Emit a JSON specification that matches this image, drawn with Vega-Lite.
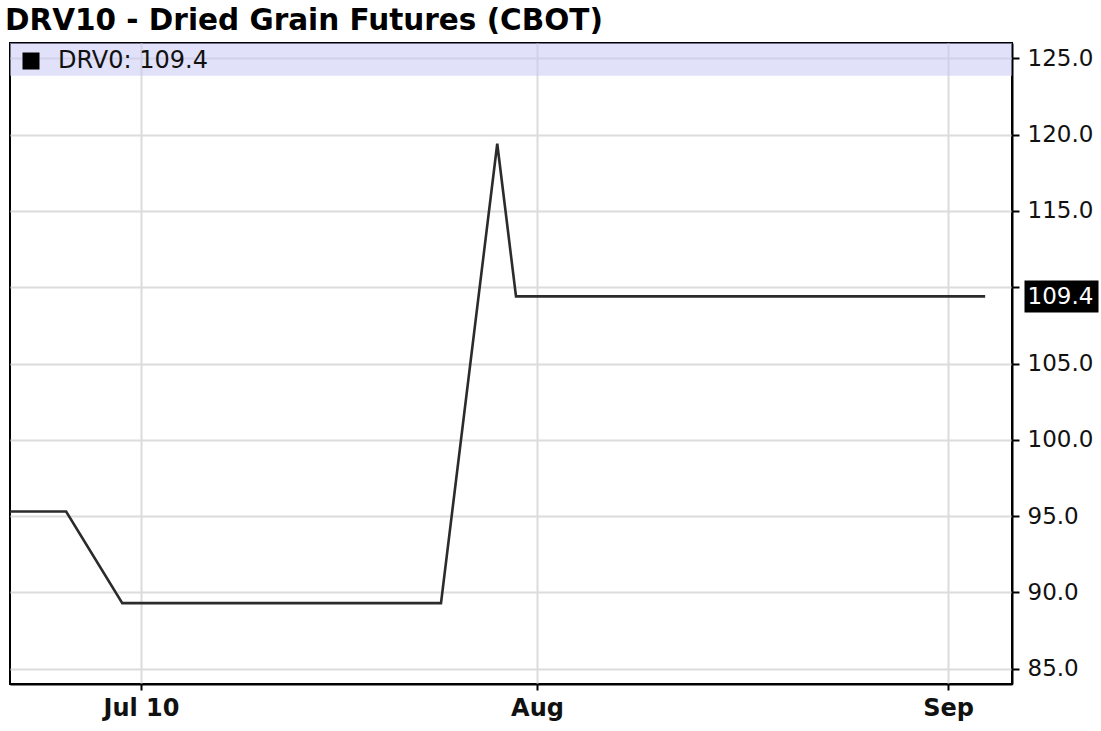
{
  "$schema": "https://vega.github.io/schema/vega-lite/v6.json",
  "width": 1002,
  "height": 641,
  "autosize": {"type": "none"},
  "padding": {"left": 10, "top": 43, "right": 89, "bottom": 47},
  "background": "#ffffff",
  "title": {
    "text": "DRV10 - Dried Grain Futures (CBOT)",
    "anchor": "start",
    "frame": "group",
    "font": "DejaVu Sans",
    "fontSize": 29.5,
    "fontWeight": "bold",
    "color": "#000000",
    "offset": 7,
    "dx": -5
  },
  "config": {
    "view": {"stroke": "#000000", "strokeWidth": 2}
  },
  "layer": [
    {
      "data": {"values": [{"band": "legend"}]},
      "mark": {"type": "rect", "fill": "#c9c9f5", "opacity": 0.55},
      "encoding": {
        "y": {
          "datum": 126,
          "type": "quantitative",
          "scale": {"domain": [84, 126], "nice": false, "zero": false},
          "axis": {
            "orient": "right",
            "values": [109.4],
            "format": ".1f",
            "grid": false,
            "domain": false,
            "ticks": true,
            "tickSize": 86,
            "tickWidth": 32,
            "tickColor": "#000000",
            "tickDash": [0, 12, 74],
            "tickCap": "butt",
            "labelPadding": -71,
            "labelColor": "#ffffff",
            "labelFont": "DejaVu Sans",
            "labelFontSize": 23,
            "labelOverlap": false,
            "title": null
          }
        },
        "y2": {"datum": 123.85}
      }
    },
    {
      "data": {
        "values": [
          {"date": "2012-07-03", "price": 95.3, "series": "DRV0"},
          {"date": "2012-07-05", "price": 95.3, "series": "DRV0"},
          {"date": "2012-07-06", "price": 95.3, "series": "DRV0"},
          {"date": "2012-07-09", "price": 89.3, "series": "DRV0"},
          {"date": "2012-07-10", "price": 89.3, "series": "DRV0"},
          {"date": "2012-07-11", "price": 89.3, "series": "DRV0"},
          {"date": "2012-07-12", "price": 89.3, "series": "DRV0"},
          {"date": "2012-07-13", "price": 89.3, "series": "DRV0"},
          {"date": "2012-07-16", "price": 89.3, "series": "DRV0"},
          {"date": "2012-07-17", "price": 89.3, "series": "DRV0"},
          {"date": "2012-07-18", "price": 89.3, "series": "DRV0"},
          {"date": "2012-07-19", "price": 89.3, "series": "DRV0"},
          {"date": "2012-07-20", "price": 89.3, "series": "DRV0"},
          {"date": "2012-07-23", "price": 89.3, "series": "DRV0"},
          {"date": "2012-07-24", "price": 89.3, "series": "DRV0"},
          {"date": "2012-07-25", "price": 89.3, "series": "DRV0"},
          {"date": "2012-07-26", "price": 89.3, "series": "DRV0"},
          {"date": "2012-07-27", "price": 89.3, "series": "DRV0"},
          {"date": "2012-07-30", "price": 119.4, "series": "DRV0"},
          {"date": "2012-07-31", "price": 109.4, "series": "DRV0"},
          {"date": "2012-08-01", "price": 109.4, "series": "DRV0"},
          {"date": "2012-08-02", "price": 109.4, "series": "DRV0"},
          {"date": "2012-08-03", "price": 109.4, "series": "DRV0"},
          {"date": "2012-08-06", "price": 109.4, "series": "DRV0"},
          {"date": "2012-08-07", "price": 109.4, "series": "DRV0"},
          {"date": "2012-08-08", "price": 109.4, "series": "DRV0"},
          {"date": "2012-08-09", "price": 109.4, "series": "DRV0"},
          {"date": "2012-08-10", "price": 109.4, "series": "DRV0"},
          {"date": "2012-08-13", "price": 109.4, "series": "DRV0"},
          {"date": "2012-08-14", "price": 109.4, "series": "DRV0"},
          {"date": "2012-08-15", "price": 109.4, "series": "DRV0"},
          {"date": "2012-08-16", "price": 109.4, "series": "DRV0"},
          {"date": "2012-08-17", "price": 109.4, "series": "DRV0"},
          {"date": "2012-08-20", "price": 109.4, "series": "DRV0"},
          {"date": "2012-08-21", "price": 109.4, "series": "DRV0"},
          {"date": "2012-08-22", "price": 109.4, "series": "DRV0"},
          {"date": "2012-08-23", "price": 109.4, "series": "DRV0"},
          {"date": "2012-08-24", "price": 109.4, "series": "DRV0"},
          {"date": "2012-08-27", "price": 109.4, "series": "DRV0"},
          {"date": "2012-08-28", "price": 109.4, "series": "DRV0"},
          {"date": "2012-08-29", "price": 109.4, "series": "DRV0"},
          {"date": "2012-08-30", "price": 109.4, "series": "DRV0"},
          {"date": "2012-08-31", "price": 109.4, "series": "DRV0"},
          {"date": "2012-09-04", "price": 109.4, "series": "DRV0"}
        ]
      },
      "mark": {"type": "line", "strokeWidth": 2.6, "interpolate": "linear", "color": "#2b2b2b"},
      "encoding": {
        "x": {
          "field": "date",
          "type": "temporal",
          "scale": {
            "type": "utc",
            "nice": false,
            "domainRaw": {"expr": "[1341273600000, 1341878400000, 1343347200000, 1343692800000, 1343779200000, 1346457600000, 1346904000000]"},
            "range": [0, 131, 431, 506, 527, 938, 1002]
          },
          "axis": {
            "values": [1341878400000, 1343779200000, 1346457600000],
            "labelExpr": "utcFormat(datum.value, '%d') == '01' ? utcFormat(datum.value, '%b') : utcFormat(datum.value, '%b %-d')",
            "tickSize": 6,
            "tickWidth": 2,
            "tickColor": "#000000",
            "domainColor": "#000000",
            "domainWidth": 2,
            "grid": true,
            "gridColor": "#dcdcdc",
            "gridWidth": 2,
            "labelFont": "DejaVu Sans",
            "labelFontWeight": "bold",
            "labelFontSize": 24,
            "labelColor": "#111111",
            "labelPadding": 6,
            "labelFlush": false,
            "labelOverlap": false,
            "title": null
          }
        },
        "y": {
          "field": "price",
          "type": "quantitative",
          "scale": {"domain": [84, 126], "nice": false, "zero": false},
          "axis": {
            "orient": "right",
            "values": [85, 90, 95, 100, 105, 110, 115, 120, 125],
            "labelExpr": "datum.value == 110 ? '' : format(datum.value, '.1f')",
            "tickSize": 7,
            "tickWidth": 2,
            "tickColor": "#000000",
            "labelPadding": 8,
            "domain": true,
            "domainColor": "#000000",
            "domainWidth": 2,
            "grid": true,
            "gridColor": "#dcdcdc",
            "gridWidth": 2,
            "labelFont": "DejaVu Sans",
            "labelFontSize": 23,
            "labelColor": "#111111",
            "labelOverlap": false,
            "title": null
          }
        },
        "color": {
          "field": "series",
          "type": "nominal",
          "scale": {"range": ["#2b2b2b"]},
          "legend": {
            "title": null,
            "orient": "none",
            "legendX": 9,
            "legendY": 6,
            "padding": 0,
            "symbolType": "square",
            "symbolSize": 289,
            "symbolFillColor": "#000000",
            "symbolStrokeColor": "#000000",
            "symbolStrokeWidth": 0,
            "labelFont": "DejaVu Sans",
            "labelFontSize": 24,
            "labelColor": "#111111",
            "labelOffset": 15,
            "labelLimit": 400,
            "labelExpr": "datum.label + ': 109.4'",
            "encode": {
              "symbols": {
                "update": {
                  "fill": {"value": "#000000"},
                  "stroke": {"value": "#000000"},
                  "opacity": {"value": 1}
                }
              }
            }
          }
        }
      }
    }
  ],
  "resolve": {"axis": {"y": "independent"}}
}
